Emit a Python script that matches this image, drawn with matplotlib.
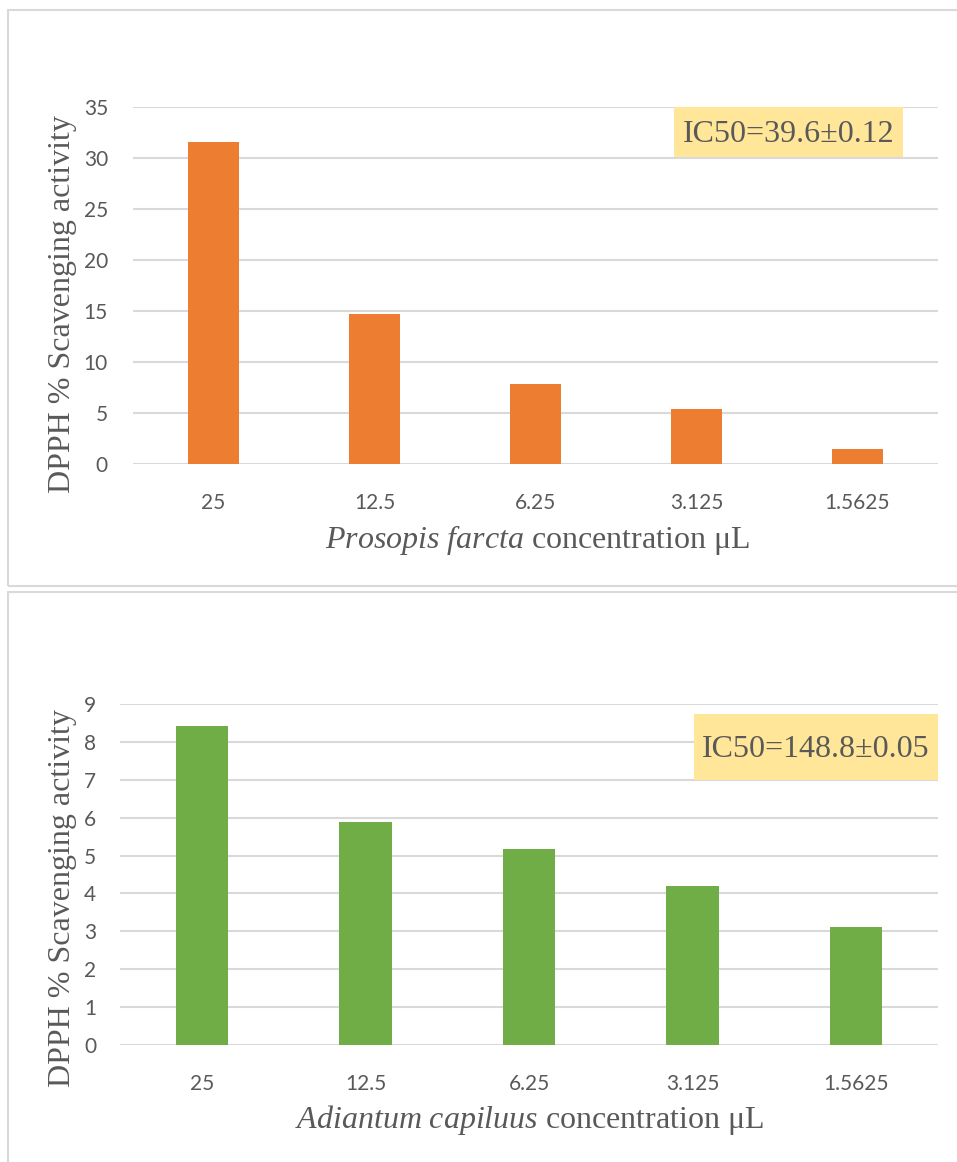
import matplotlib.pyplot as plt
from matplotlib.patches import Rectangle

concentrations = ['25', '12.5', '6.25', '3.125', '1.5625']
prosopis_vals = [31.6, 14.7, 7.8, 5.35, 1.45]
adiantum_vals = [8.42, 5.88, 5.17, 4.19, 3.11]
prosopis_ic50 = 'IC50=39.6±0.12'
adiantum_ic50 = 'IC50=148.8±0.05'

TXT = '#595959'
GRID = '#D9D9D9'
SERIF = 'Liberation Serif'
SANS = 'Lato'

W, H = 957, 1162
fig = plt.figure(figsize=(W / 100, H / 100), dpi=100)

plt.rcParams['mathtext.fontset'] = 'custom'
plt.rcParams['mathtext.it'] = SERIF + ':italic'
plt.rcParams['mathtext.rm'] = SERIF


def px(x0, y0, x1, y1):
    # pixel box -> figure fraction [left, bottom, width, height]
    return [x0 / W, 1 - y1 / H, (x1 - x0) / W, (y1 - y0) / H]


# panel frames
for (x0, y0, x1, y1) in [(8, 10, 960, 586), (8, 592, 960, 1170)]:
    fig.patches.append(Rectangle((x0 / W, 1 - y1 / H), (x1 - x0) / W, (y1 - y0) / H,
                                 transform=fig.transFigure, fill=False,
                                 edgecolor=GRID, linewidth=1.5))


def panel(rect, vals, ymax, step, color, species, ic50, box, ylab_xy, xlab_xy, ypad):
    ax = fig.add_axes(px(*rect))
    x = range(len(vals))
    ax.bar(x, vals, width=0.32, color=color, zorder=3)
    ax.set_xlim(-0.5, len(vals) - 0.5)
    ax.set_ylim(0, ymax)
    ax.set_yticks(range(0, ymax + 1, step))
    ax.set_xticks(list(x))
    ax.set_xticklabels(concentrations)
    ax.grid(axis='y', color=GRID, linewidth=1.5, zorder=0)
    for s in ax.spines.values():
        s.set_visible(False)
    ax.tick_params(length=0, labelsize=15, labelcolor=TXT)
    ax.tick_params(axis='y', pad=ypad)
    ax.tick_params(axis='x', pad=21)
    for lab in ax.get_xticklabels() + ax.get_yticklabels():
        lab.set_fontfamily(SANS)
    # IC50 label box (pixel box in figure)
    bx = px(*box)
    fig.patches.append(Rectangle((bx[0], bx[1]), bx[2], bx[3], transform=fig.transFigure,
                                 facecolor='#FFE699', edgecolor='none', zorder=4))
    fig.text(bx[0] + bx[2] / 2, bx[1] + bx[3] / 2 - 0.002, ic50, ha='center', va='center',
             fontsize=23, family=SERIF, color=TXT, zorder=5)
    fig.text(ylab_xy[0] / W, 1 - ylab_xy[1] / H, 'DPPH % Scavenging activity', rotation=90,
             ha='center', va='center', fontsize=23, family=SERIF, color=TXT)
    fig.text(xlab_xy[0] / W, 1 - xlab_xy[1] / H,
             r'$\it{' + species.replace(' ', r'\ ') + r'}$' + ' concentration μL',
             ha='center', va='center', fontsize=23, family=SERIF, color=TXT)
    return ax


panel((133, 107, 938, 464), prosopis_vals, 35, 5, '#ED7D31', 'Prosopis farcta',
      prosopis_ic50, (674, 107, 903, 157), (63, 304), (537, 540), 18)
panel((120, 704, 938, 1045), adiantum_vals, 9, 1, '#70AD47', 'Adiantum capiluus',
      adiantum_ic50, (694, 714, 938, 780), (63, 898), (530, 1120), 17)

fig.savefig('out.png', dpi=100, facecolor='white')
